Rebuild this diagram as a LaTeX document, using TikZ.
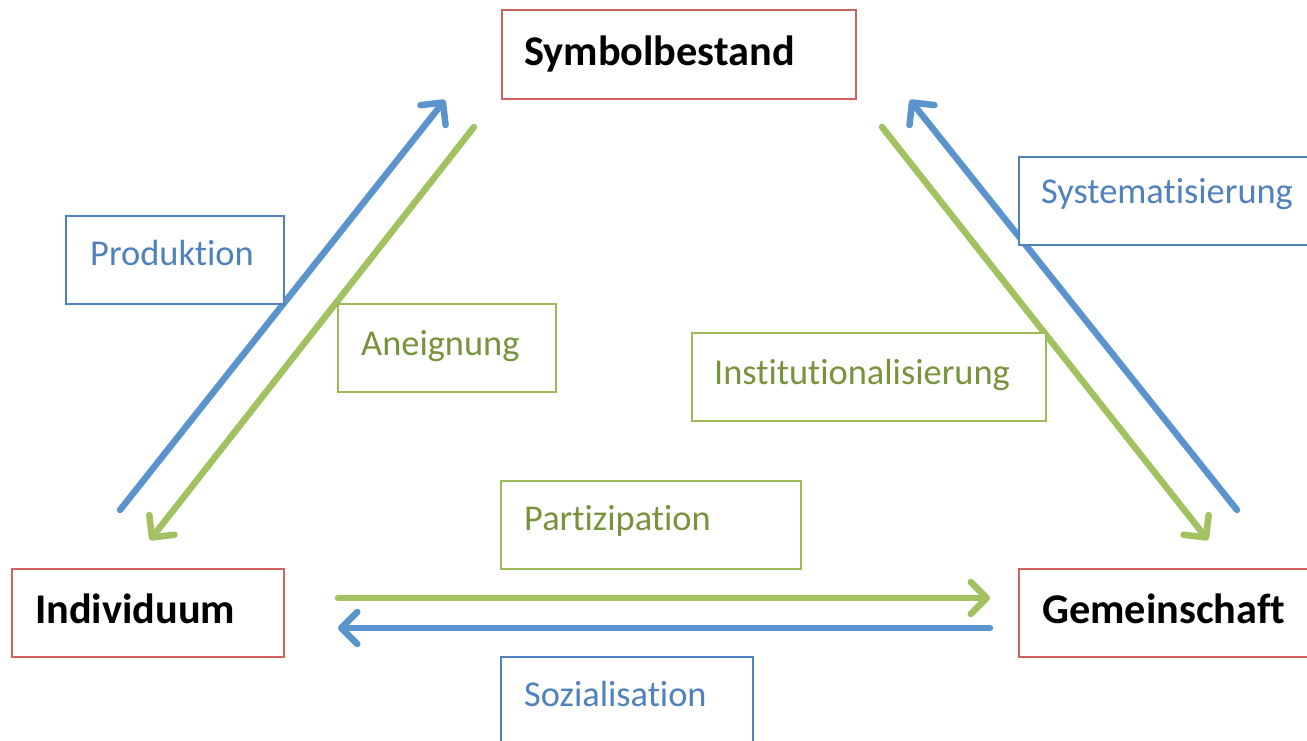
\documentclass[tikz,border=0pt]{standalone}
\usepackage{fontspec}
\setmainfont[Ligatures=CommonOff]{Carlito}
\usetikzlibrary{arrows.meta}
\definecolor{boxred}{HTML}{D0625E}
\definecolor{boxblue}{HTML}{4F81BD}
\definecolor{boxgreen}{HTML}{9BBB59}
\definecolor{txtblue}{HTML}{4F81BD}
\definecolor{txtgreen}{HTML}{77933C}
\definecolor{arrblue}{HTML}{5B93CC}
\definecolor{arrgreen}{HTML}{A2C261}
\tikzset{
  redbox/.style={draw=boxred, line width=1.5pt, fill=white, rectangle, inner sep=0pt},
  bluebox/.style={draw=boxblue, line width=1.2pt, fill=white, rectangle, inner sep=0pt},
  greenbox/.style={draw=boxgreen, line width=1.2pt, fill=white, rectangle, inner sep=0pt},
  headtxt/.style={anchor=base west, inner sep=0pt, font=\fontsize{42.3}{46}\selectfont\bfseries, text=black},
  bluetxt/.style={anchor=base west, inner sep=0pt, font=\fontsize{36.4}{40}\selectfont, text=txtblue},
  greentxt/.style={anchor=base west, inner sep=0pt, font=\fontsize{36.4}{40}\selectfont, text=txtgreen},
  barrow/.style={draw=arrblue, line width=6.5pt, line cap=round, -{Straight Barb[length=16pt, width=32pt, line cap=round, line join=round]}},
  garrow/.style={draw=arrgreen, line width=6.5pt, line cap=round, -{Straight Barb[length=16pt, width=32pt, line cap=round, line join=round]}},
}
\begin{document}
\begin{tikzpicture}[x=1pt,y=-1pt]
\useasboundingbox (0,0) rectangle (1307,741);
% arrows first (under boxes)
\coordinate (p1) at (120,510); \coordinate (p2) at (445,100);
\coordinate (a1) at (474,127); \coordinate (a2) at (150,540);
\coordinate (s1) at (1237,510); \coordinate (s2) at (910,100);
\coordinate (i1) at (882,127); \coordinate (i2) at (1208,540);
\coordinate (t1) at (338,598); \coordinate (t2) at (990,598);
\coordinate (z1) at (990,628); \coordinate (z2) at (338,628);
\draw[barrow] (p1) -- (p2);
\draw[garrow] (a1) -- (a2);
\draw[barrow] (s1) -- (s2);
\draw[garrow] (i1) -- (i2);
\draw[garrow] (t1) -- (t2);
\draw[barrow] (z1) -- (z2);
% main boxes
\node[redbox, minimum width=354, minimum height=89] (sym) at (679,54.5) {};
\node[headtxt] (symt) at (524,66) {Symbolbestand};
\node[redbox, minimum width=272, minimum height=88] (ind) at (148,613) {};
\node[headtxt] (indt) at (35,623) {Individuum};
\node[redbox, minimum width=300, minimum height=88] (gem) at (1169,613) {};
\node[headtxt] (gemt) at (1042,623) {Gemeinschaft};
% label boxes
\node[bluebox, minimum width=218, minimum height=88] (prod) at (175,260) {};
\node[bluetxt] (prodt) at (90,265) {Produktion};
\node[greenbox, minimum width=218, minimum height=88] (aneig) at (447,348) {};
\node[greentxt] (aneigt) at (361,355) {Aneignung};
\node[bluebox, minimum width=300, minimum height=88] (syst) at (1169,201) {};
\node[bluetxt] (systt) at (1041,204) {Systematisierung};
\node[greenbox, minimum width=354, minimum height=88] (inst) at (869,377) {};
\node[greentxt] (instt) at (714,384) {Institutionalisierung};
\node[greenbox, minimum width=300, minimum height=88] (part) at (651,525) {};
\node[greentxt] (partt) at (524,530) {Partizipation};
\node[bluebox, minimum width=252, minimum height=100] (soz) at (627,707) {};
\node[bluetxt] (sozt) at (524,706) {Sozialisation};
\end{tikzpicture}
\end{document}
